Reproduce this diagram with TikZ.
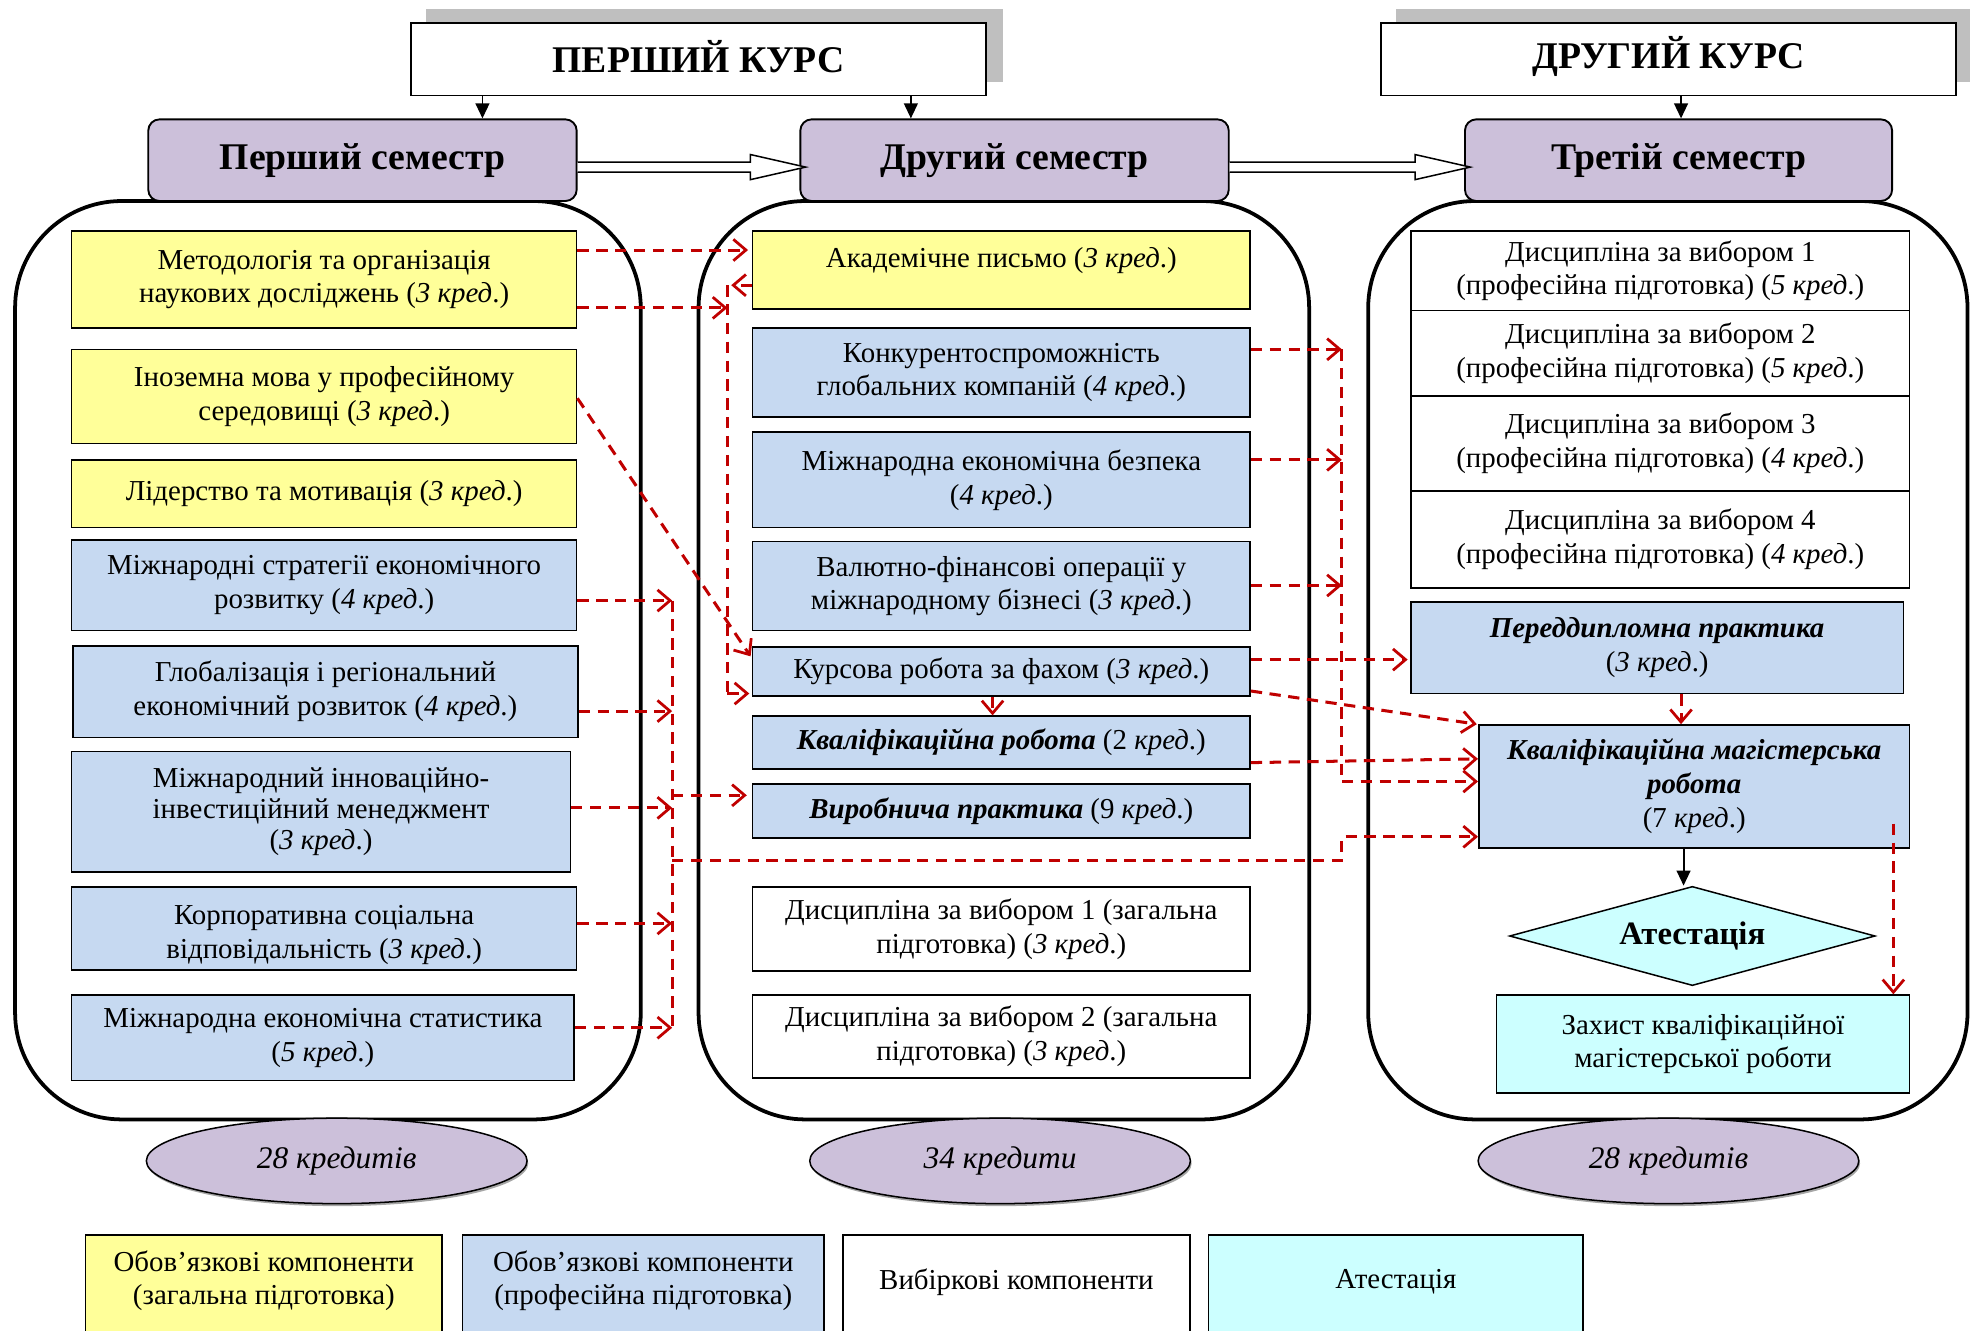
\documentclass[tikz,border=0pt]{standalone}
\usepackage{fontspec}
\setmainfont{Liberation Serif}
\usetikzlibrary{arrows.meta,shapes.geometric,calc}
\definecolor{yel}{HTML}{FFFF99}
\definecolor{blu}{HTML}{C6D9F1}
\definecolor{pur}{HTML}{CCC0DA}
\definecolor{cya}{HTML}{CCFFFF}
\definecolor{shd}{HTML}{BFBFBF}
\definecolor{rd}{HTML}{C00000}
\newcommand\bx[7]{\node[#1, minimum width={(#5)-(#3)}, minimum height={(#6)-(#4)}] (#2) at ({((#3)+(#5))/2},{((#4)+(#6))/2}) {#7};}
\newcommand\dbl[2]{\draw[line width=1.2pt, fill=white] ($(#1.east)+(0,1.5)$) -- ($(#2.west)+(-39,1.5)$) -- ($(#2.west)+(-39,-4.5)$) -- ($(#2.west)+(5,5.5)$) -- ($(#2.west)+(-39,15.5)$) -- ($(#2.west)+(-39,9.5)$) -- ($(#1.east)+(0,9.5)$);}
\tikzset{
  cbox/.style={draw, line width=1.2pt, align=center, inner sep=0pt, font=\fontsize{23}{27}\selectfont},
  ybox/.style={cbox, fill=yel},
  bbox/.style={cbox, fill=blu},
  wbox/.style={cbox, fill=white},
  cybox/.style={cbox, fill=cya},
  txt/.style={align=center, inner sep=0pt, font=\fontsize{23}{27}\selectfont},
  course/.style={draw, line width=1.5pt, fill=white, inner sep=0pt, font=\fontsize{30}{34}\selectfont\bfseries},
  sem/.style={draw, line width=1.5pt, fill=pur, rounded corners=9pt, inner sep=0pt, font=\fontsize{30}{34}\selectfont\bfseries},
  cont/.style={draw, line width=3pt, fill=white, rounded corners=85pt, inner sep=0pt},
  ell/.style={ellipse, draw, line width=1.2pt, fill=pur, inner sep=0pt, minimum width=303pt, minimum height=68pt, font=\fontsize{25}{30}\selectfont\itshape},
  ellsh/.style={ellipse, fill=black!35, inner sep=0pt, minimum width=303pt, minimum height=68pt},
  rline/.style={draw=rd, line width=2.4pt, dash pattern=on 9pt off 6pt},
  rarr/.style={rline, -{Straight Barb[length=10pt,width=17pt,line width=2.2pt]}},
  barr/.style={draw=black, line width=1.5pt, -{Triangle[length=12pt,width=11pt]}},
}
\begin{document}
\begin{tikzpicture}[x=1pt,y=-1pt]
\useasboundingbox (0,0) rectangle (1568,1059);
\clip (0,0) rectangle (1568,1059);
% course titles
\fill[shd] (339,7) rectangle (798,65);
\fill[shd] (1111,7) rectangle (1580,65);
\bx{course}{c1}{327}{18}{785}{76}{}
\bx{course}{c2}{1099}{18}{1557}{76}{}
\node[course, draw=none, fill=none] at ($(c1.center)+(0,-2)$) {ПЕРШИЙ КУРС};
\node[course, draw=none, fill=none] at ($(c2.center)+(0,-2)$) {ДРУГИЙ КУРС};
% containers
\bx{cont}{k1}{12}{160}{510}{891}{}
\bx{cont}{k2}{556}{160}{1042}{891}{}
\bx{cont}{k3}{1089}{160}{1566}{891}{}
% semesters
\bx{sem}{s1}{118}{95}{459}{160}{Перший семестр}
\bx{sem}{s2}{637}{95}{978}{160}{Другий семестр}
\bx{sem}{s3}{1166}{95}{1506}{160}{Третій семестр}
\dbl{s1}{s2}
\dbl{s2}{s3}
\draw[barr] (c1.south -| 384,0) -- (s1.north -| 384,0);
\draw[barr] (c1.south -| 725,0) -- (s2.north -| 725,0);
\draw[barr] (c2.south -| 1338,0) -- (s3.north -| 1338,0);
% left column
\bx{ybox}{l1}{57}{184}{459}{261}{Методологія та організація\\наукових досліджень (\textit{3 кред}.)}
\bx{ybox}{l2}{57}{278}{459}{353}{Іноземна мова у професійному\\середовищі (\textit{3 кред}.)}
\bx{ybox}{l3}{57}{366}{459}{420}{Лідерство та мотивація (\textit{3 кред}.)}
\bx{bbox}{l4}{57}{430}{459}{502}{Міжнародні стратегії економічного\\розвитку (\textit{4 кред}.)}
\bx{bbox}{l5}{58}{514}{460}{587}{Глобалізація і регіональний\\економічний розвиток (\textit{4 кред}.)}
\bx{bbox, font=\fontsize{23}{25}\selectfont}{l6}{57}{598}{454}{694}{Міжнародний інноваційно-\\інвестиційний менеджмент\\(\textit{3 кред}.)}
\bx{bbox}{l7}{57}{706}{459}{772}{}
\node[txt] at ($(l7.center)+(0,5)$) {Корпоративна соціальна\\відповідальність (\textit{3 кред}.)};
\bx{bbox}{l8}{57}{792}{457}{860}{Міжнародна економічна статистика\\(\textit{5 кред}.)}
% middle column
\bx{ybox}{m1}{599}{184}{995}{246}{}
\node[txt] at ($(m1.north)+(0,24)$) {Академічне письмо (\textit{3 кред}.)};
\bx{bbox}{m2}{599}{261}{995}{332}{Конкурентоспроможність\\глобальних компаній (\textit{4 кред}.)}
\bx{bbox}{m3}{599}{344}{995}{420}{Міжнародна економічна безпека\\(\textit{4 кред}.)}
\bx{bbox}{m4}{599}{431}{995}{502}{Валютно-фінансові операції у\\міжнародному бізнесі (\textit{3 кред}.)}
\bx{bbox}{m5}{599}{515}{995}{554}{Курсова робота за фахом (\textit{3 кред}.)}
\bx{bbox}{m6}{599}{570}{995}{612}{\textbf{\textit{Кваліфікаційна робота}} (2 \textit{кред}.)}
\bx{bbox}{m7}{599}{624}{995}{667}{\textbf{\textit{Виробнича практика}} (9 \textit{кред}.)}
\bx{wbox}{m8}{599}{706}{995}{773}{Дисципліна за вибором 1 (загальна\\підготовка) (\textit{3 кред}.)}
\bx{wbox}{m9}{599}{792}{995}{858}{Дисципліна за вибором 2 (загальна\\підготовка) (\textit{3 кред}.)}
% right column
\bx{wbox}{r1}{1123}{184}{1520}{247}{Дисципліна за вибором 1\\(професійна підготовка) (\textit{5 кред}.)}
\bx{wbox}{r2}{1123}{247}{1520}{315}{Дисципліна за вибором 2\\(професійна підготовка) (\textit{5 кред}.)}
\bx{wbox}{r3}{1123}{315}{1520}{391}{Дисципліна за вибором 3\\(професійна підготовка) (\textit{4 кред}.)}
\bx{wbox}{r4}{1123}{391}{1520}{468}{Дисципліна за вибором 4\\(професійна підготовка) (\textit{4 кред}.)}
\bx{bbox}{r5}{1123}{479}{1515}{552}{\textbf{\textit{Переддипломна практика}}\\(\textit{3 кред}.)}
\bx{bbox}{r6}{1177}{577}{1520}{675}{\textbf{\textit{Кваліфікаційна магістерська}}\\\textbf{\textit{робота}}\\(7 \textit{кред}.)}
\node[diamond, draw, line width=1.2pt, fill=cya, inner sep=0pt, shape aspect=3.7, minimum width=291pt, minimum height=79pt, font=\fontsize{26}{30}\selectfont\bfseries] (r7) at (1347,745) {Атестація};
\bx{cybox}{r8}{1191}{792}{1520}{870}{Захист кваліфікаційної\\магістерської роботи}
% red connectors: left -> middle
\draw[rarr] (l1.east |- 0,199) -- ($(m1.west |- 0,199)+(-3,0)$);
\coordinate (ja) at (579,227);
\coordinate (jb) at (579,552);
\draw[rarr] (l1.east |- 0,245) -- (ja |- 0,245);
\draw[rarr] (m1.west |- ja) -- ($(ja)+(3,0)$);
\draw[rline] (ja) -- (jb);
\draw[rarr] (jb) -- ($(m5.west |- jb)+(-2,0)$);
\draw[rarr] (l2.east |- 0,317) -- ($(m5.north west)+(-1,8)$);
% left lower group
\coordinate (jt) at (535,478);
\coordinate (jm) at (535,633);
\coordinate (jd) at (535,685);
\coordinate (je) at (535,818);
\draw[rline] (jt) -- (je);
\draw[rarr] (l4.east |- jt) -- (jt);
\draw[rarr] (l5.east |- 0,566) -- (jt |- 0,566);
\draw[rarr] (l6.east |- 0,643) -- (jt |- 0,643);
\draw[rarr] (l7.east |- 0,735) -- (jt |- 0,735);
\draw[rarr] (l8.east |- je) -- (je);
\draw[rarr] (jm) -- ($(m7.west |- jm)+(-4,0)$);
\coordinate (jf) at (1068,685);
\coordinate (jg) at (1068,666);
\draw[rarr] (jd) -- (jf) -- (jg) -- (r6.west |- jg);
% middle -> right
\coordinate (jh) at (1068,278);
\coordinate (ji) at (1068,622);
\draw[rline] (jh) -- (ji);
\draw[rarr] (ji) -- (r6.west |- ji);
\draw[rarr] (m2.east |- jh) -- (jh);
\draw[rarr] (m3.east |- 0,366) -- (jh |- 0,366);
\draw[rarr] (m4.east |- 0,466) -- (jh |- 0,466);
\draw[rarr] (m5.east |- 0,525) -- ($(r5.west |- 0,525)+(-2,0)$);
\draw[rarr] (m5.east |- 0,550) -- ($(r6.north west)+(-1,0)$);
\draw[rarr] (m6.east |- 0,607) -- (r6.west |- 0,604);
\draw[rarr] (m5.south -| 790,0) -- (m6.north -| 790,0);
\draw[rarr] (r5.south -| 1338,0) -- (r6.north -| 1338,0);
\draw[rarr] (r6.south -| 1507,0) ++(0,-20) -- (r8.north -| 1507,0);
\draw[barr] (r6.south -| 1340,0) -- (r7.north -| 1340,0);
% ellipses
\node[ellsh] at (269,926) {};
\node[ellsh] at (797,926) {};
\node[ellsh] at (1329,926) {};
\node[ell] (e1) at (268,924) {28 кредитів};
\node[ell] (e2) at (796,924) {34 кредити};
\node[ell] (e3) at (1328,924) {28 кредитів};
% legend
\bx{ybox}{g1}{68}{983}{352}{1075}{}
\bx{bbox}{g2}{368}{983}{656}{1075}{}
\bx{wbox}{g3}{671}{983}{947}{1075}{}
\bx{cybox}{g4}{962}{983}{1260}{1075}{}
\node[txt] at ($(g1.north)+(0,37)$) {Обов’язкові компоненти\\(загальна підготовка)};
\node[txt] at ($(g2.north)+(0,37)$) {Обов’язкові компоненти\\(професійна підготовка)};
\node[txt] at ($(g3.north)+(0,38)$) {Вибіркові компоненти};
\node[txt] at ($(g4.north)+(0,38)$) {Атестація};
\end{tikzpicture}
\end{document}
